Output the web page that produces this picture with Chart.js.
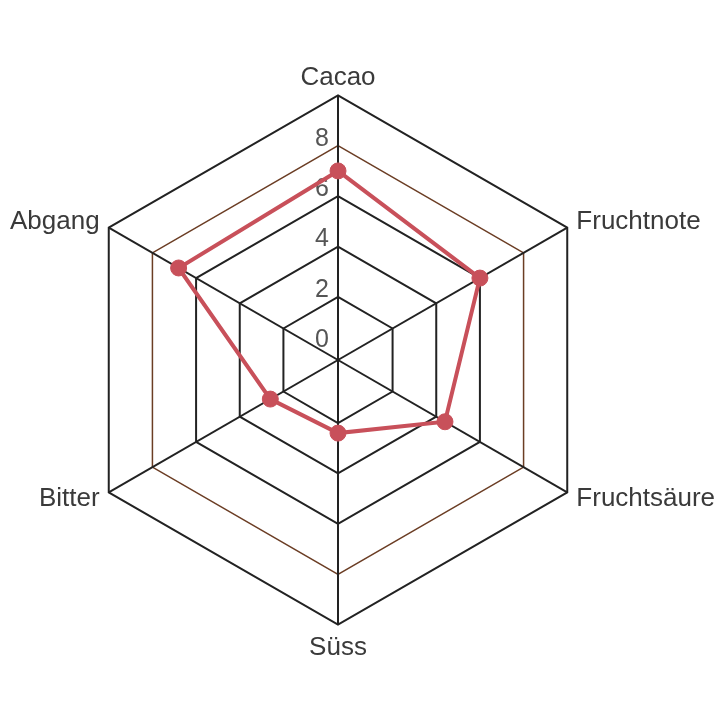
<!DOCTYPE html>
<html>
<head>
<meta charset="utf-8">
<script src="https://cdn.jsdelivr.net/npm/chart.js@4/dist/chart.umd.min.js"></script>
<style>
  html, body { margin: 0; padding: 0; background: #fff; overflow: hidden; width: 720px; height: 720px; }
  /* the chart box is a bit larger than the window so the hexagon gets the same size as the original */
  #wrap { width: 757px; height: 757px; margin-left: -12px; margin-top: -15px; }
</style>
</head>
<body>
<div id="wrap"><canvas id="radarChart"></canvas></div>
<script>
const categories = ['Cacao', 'Fruchtnote', 'Fruchtsäure', 'Süss', 'Bitter', 'Abgang']
const profile = [7.0, 6.0, 4.4, 2.4, 2.6, 6.8]
const tickValues = [0, 2, 4, 6, 8, 10]
const tickLabels = ['0', '2', '4', '6', '8', '']

const red = '#c8505a'
const dark = '#222222'
const brown = '#6b3d24'

// gap between the hexagon corner and each category label (chart.js adds 14.5 on top)
const labelGap = [2, -4, -4, 7.5, -4, -4]

// nudge the tick labels up and left like the original
const shiftTicks = {
  id: 'shiftTicks',
  afterLayout(chart) {
    const s = chart.scales.r
    if (s._patched) return
    const orig = s.drawLabels.bind(s)
    s.drawLabels = function() {
      chart.ctx.save()
      chart.ctx.translate(-16, -7)
      orig()
      chart.ctx.restore()
    }
    s._patched = true
  }
}

const ctx = document.getElementById('radarChart').getContext('2d')
const chart = new Chart(ctx, {
  type: 'radar',
  data: {
    labels: categories,
    datasets: [{
      data: profile,
      borderColor: red,
      backgroundColor: red,
      fill: false,
      borderWidth: 4,
      pointRadius: 8,
      pointBackgroundColor: red,
      pointBorderColor: red,
      pointBorderWidth: 1
    }]
  },
  options: {
    responsive: true,
    maintainAspectRatio: false,
    animation: false,
    plugins: {
      legend: { display: false },
      tooltip: { enabled: false }
    },
    scales: {
      r: {
        min: -0.5,
        max: 10,
        afterBuildTicks: scale => {
          scale.ticks = tickValues.map(v => ({ value: v }))
        },
        ticks: {
          showLabelBackdrop: false,
          color: '#555',
          font: { family: 'Liberation Sans', size: 25 },
          callback: (v) => tickLabels[tickValues.indexOf(v)] ?? ''
        },
        grid: {
          color: c => c.tick && c.tick.value === 0 ? 'rgba(0,0,0,0)' :
            (c.tick && c.tick.value === 8 ? brown : dark),
          lineWidth: c => c.tick && c.tick.value === 8 ? 1.5 : 2
        },
        angleLines: { color: dark, lineWidth: 2 },
        pointLabels: {
          color: '#3a3a3a',
          padding: c => labelGap[c.index],
          font: { family: 'Liberation Sans', size: 26, lineHeight: '2px' }
        }
      }
    }
  },
  plugins: [shiftTicks]
})
</script>
</body>
</html>
